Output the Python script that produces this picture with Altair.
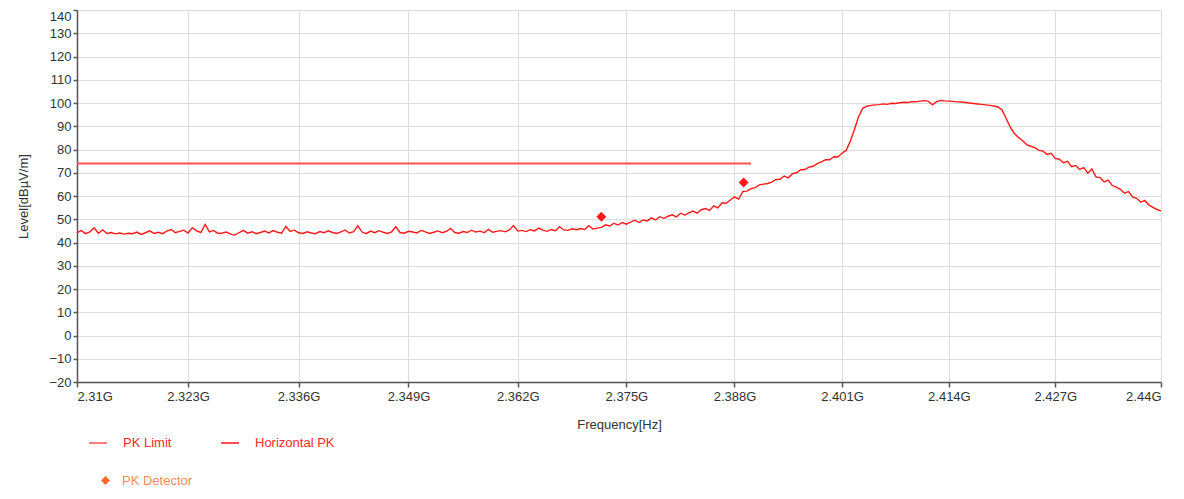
import altair as alt
import pandas as pd

# ---------------- data ----------------
FREQ_START = 2.31      # GHz, first sweep point
FREQ_STEP = 0.0005     # GHz, sweep step

# Horizontal PK trace, dBµV/m, one value per sweep point
levels = [
    # 2.3100-2.3195
    44.2, 45.1, 43.8, 44.6, 46.3, 44.0, 45.4, 43.9, 44.3, 43.7,
    44.1, 43.6, 44.0, 43.8, 44.5, 43.5, 44.2, 45.0, 43.9, 44.4,
    # 2.3200-2.3295
    43.8, 44.9, 45.6, 44.2, 44.8, 45.3, 44.1, 46.4, 45.0, 44.3,
    47.8, 44.6, 45.2, 43.9, 44.1, 44.5, 43.6, 43.2, 44.3, 45.2,
    # 2.3300-2.3395
    44.0, 44.6, 43.8, 44.3, 44.9, 44.1, 45.1, 44.4, 44.0, 46.9,
    44.8, 45.3, 44.2, 43.9, 44.6, 44.1, 43.8, 44.7, 44.2, 45.0,
    # 2.3400-2.3495
    44.3, 43.9, 44.6, 45.4, 44.1, 44.7, 47.2, 44.5, 43.8, 44.9,
    44.2, 45.1, 44.4, 43.9, 44.6, 46.8, 44.3, 44.0, 44.8, 44.5,
    # 2.3500-2.3595
    44.1, 45.2, 44.6, 43.9, 44.4, 45.0, 44.2, 44.8, 46.1, 44.3,
    44.0, 44.7, 44.3, 45.3, 44.5, 44.9, 44.2, 45.6, 44.4, 44.8,
    # 2.3600-2.3720
    45.1, 44.6, 45.4, 47.3, 44.9, 45.2, 44.7, 45.5, 45.0, 46.2,
    45.3, 44.8, 45.6, 45.1, 46.8, 45.4, 45.2, 45.9, 45.5, 46.0,
    45.6, 47.2, 45.8, 46.2, 46.5,
    # 2.3725-2.4050 rising edge
    47.6, 47.1, 48.3, 47.5, 48.6,
    47.9, 48.8, 49.6, 48.6, 49.7,
    49.3, 50.6, 49.7, 51.1, 50.4,
    51.3, 51.9, 51.0, 52.6, 51.8,
    52.7, 53.5, 52.6, 54.1, 54.6,
    53.8, 55.8, 54.9, 57.1, 56.9,
    58.3, 59.6, 58.7, 61.9, 62.1,
    63.2, 63.6, 64.8, 65.1, 65.4,
    66.0, 67.1, 67.2, 68.6, 67.8,
    69.6, 70.0, 71.3, 71.4, 72.4,
    72.8, 73.9, 74.7, 75.6, 75.6,
    76.9, 76.8, 78.4, 79.6, 83.5,
    88.5, 94.0, 97.6, 98.6, 99.0, 99.2,
    # 2.4055-2.4200 plateau
    99.3, 99.6, 99.4, 99.9, 99.8, 100.1, 100.3, 100.2, 100.6, 100.5,
    100.8, 101.0, 100.7, 99.2, 100.6, 101.1, 100.9, 100.8, 100.7, 100.5,
    100.4, 100.2, 100.0, 99.8, 99.6, 99.4, 99.2, 99.0, 98.7, 98.3,
    # 2.4205-2.4240 falling edge
    97.0, 93.2, 89.6, 86.9, 85.2, 83.8, 82.1, 81.4,
    # 2.4245-2.4400 skirt
    80.8, 79.6, 79.3, 77.9, 78.4, 76.2, 75.8, 74.3, 74.9, 72.6,
    73.1, 71.4, 72.2, 69.8, 71.6, 68.2, 67.9, 66.1, 66.8, 64.5,
    63.8, 62.9, 61.2, 61.9, 59.6, 59.0, 57.3, 58.1, 56.2, 55.1,
    54.2, 53.6,
]

limit_freq = [2.31, 2.39]
limit_level = [74, 74]

det_freq = [2.3720, 2.3891]
det_level = [51.1, 65.8]

x_ticks = [2.31, 2.323, 2.336, 2.349, 2.362, 2.375, 2.388, 2.401, 2.414, 2.427, 2.44]
y_ticks = [-20, -10, 0, 10, 20, 30, 40, 50, 60, 70, 80, 90, 100, 110, 120, 130, 140]

series_lines = ["PK Limit", "Horizontal PK"]
series_det = ["PK Detector"]

# ---------------- tables ----------------
freq = [round(FREQ_START + FREQ_STEP * i, 4) for i in range(len(levels))]
trace_df = pd.DataFrame({"freq": freq, "level": levels, "series": series_lines[1]})
limit_df = pd.DataFrame({"freq": limit_freq, "level": limit_level, "series": series_lines[0]})
det_df = pd.DataFrame({"freq": det_freq, "level": det_level, "series": series_det[0]})

FONT = "Liberation Sans"

x_enc = alt.X(
    "freq:Q",
    scale=alt.Scale(type="log", domain=[2.31, 2.44], nice=False),
    axis=alt.Axis(
        values=x_ticks,
        labelExpr="datum.value >= 2.4399 ? format(datum.value, '.4~g') + 'G\u00a0\u00a0' : format(datum.value, '.4~g') + 'G'",
        title="Frequency[Hz]",
        tickSize=5,
        labelPadding=3,
        titlePadding=15,
    ),
)
y_enc = alt.Y(
    "level:Q",
    scale=alt.Scale(domain=[-20, 140], nice=False, zero=False),
    axis=alt.Axis(
        values=y_ticks,
        title="Level[dBµV/m]",
        tickSize=4,
        labelPadding=2,
        labelBaseline={"condition": {"test": "datum.value >= 140", "value": "top"}, "value": "middle"},
        titleX=-47,
        titleY=186,
    ),
)

color_scale = alt.Scale(domain=series_lines, range=["#ff5252", "#ff1a1a"])
color_legend = alt.Legend(
    title=None,
    orient="none",
    legendX=11,
    legendY=423,
    direction="horizontal",
    symbolType="stroke",
    symbolSize=324,
    symbolStrokeWidth=1.5,
    labelOffset=15,
    columnPadding=46,
    labelFontSize=13,
    labelFont=FONT,
    labelColor="#ff2a2a",
    padding=0,
)

limit = alt.Chart(limit_df).mark_line(strokeWidth=2).encode(
    x=x_enc, y=y_enc,
    color=alt.Color("series:N", scale=color_scale, legend=color_legend),
)
trace = alt.Chart(trace_df).mark_line(strokeWidth=1.4).encode(
    x=x_enc, y=y_enc,
    color=alt.Color("series:N", scale=color_scale, legend=color_legend),
)

det_visible = alt.Chart(det_df).mark_point(
    shape="diamond", filled=True, size=100, color="#ff1a1a", opacity=1
).encode(x=x_enc, y=y_enc)

det_legend = alt.Chart(det_df).mark_point(
    filled=True, size=80, color="#ff6a2a", opacity=0
).encode(
    x=x_enc, y=y_enc,
    shape=alt.Shape(
        "series:N",
        scale=alt.Scale(domain=series_det, range=["diamond"]),
        legend=alt.Legend(
            title=None,
            orient="none",
            legendX=22,
            legendY=464,
            symbolSize=80,
            symbolOpacity=1,
            labelOffset=10,
            labelFontSize=13,
            labelFont=FONT,
            labelColor="#ff8c55",
            padding=0,
        ),
    ),
)

chart = (
    alt.layer(limit, trace, det_legend, det_visible)
    .properties(
        width=1084,
        height=372,
        autosize=alt.AutoSizeParams(type="none"),
        padding={"left": 69, "top": 2, "right": 15, "bottom": 105},
        background="white",
    )
    .configure_axis(
        labelFont=FONT,
        titleFont=FONT,
        labelFontSize=13,
        titleFontSize=13,
        titleFontWeight="normal",
        labelColor="#333333",
        titleColor="#333333",
        domainColor="#555555",
        domainWidth=1.5,
        tickColor="#555555",
        tickWidth=1.5,
        gridColor="#dddddd",
        gridWidth=1,
        grid=True,
    )
    .configure_view(strokeWidth=0)
)

chart.save("out.html", embed_options={"renderer": "svg", "actions": False})
